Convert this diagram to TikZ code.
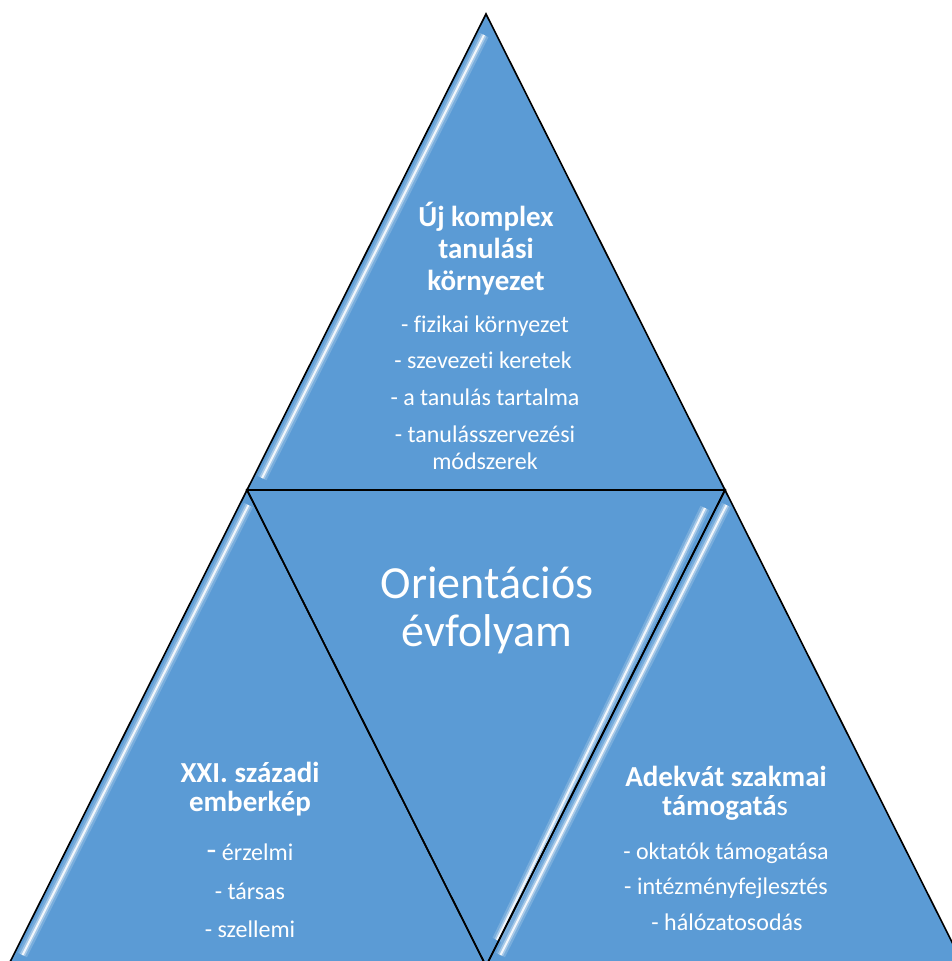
\documentclass[tikz,border=0pt]{standalone}
\usepackage{fontspec}
\setmainfont[Ligatures=CommonOff]{Carlito}
\definecolor{tblue}{RGB}{91,155,213}
\tikzset{
  tri/.style={fill=tblue, draw=black, line width=1.6pt, line join=miter},
  hlA/.style={draw=white, opacity=0.18, line width=10pt, line cap=butt},
  hlB/.style={draw=white, opacity=0.35, line width=5.5pt, line cap=butt},
  hlC/.style={draw=white, opacity=0.85, line width=2pt, line cap=butt},
  ttl/.style={text=white, font=\fontsize{29}{29}\selectfont\bfseries, anchor=base, inner sep=0pt},
  itm/.style={text=white, font=\fontsize{24}{24}\selectfont, anchor=base, inner sep=0pt},
  bigt/.style={text=white, font=\fontsize{46}{46}\selectfont, anchor=base, inner sep=0pt}
}
\newcommand{\hlstripe}[2]{%
  \draw[hlA] #1 -- #2; \draw[hlB] #1 -- #2; \draw[hlC] #1 -- #2;}
\begin{document}
\begin{tikzpicture}[x=1pt,y=-1pt]
\useasboundingbox (0,0) rectangle (952,961);
\begin{scope}
\clip (0,0) rectangle (952,961);
% triangles
\coordinate (apex) at (486,14);
\coordinate (ml) at (247,490);
\coordinate (mr) at (725,490);
\coordinate (bl) at (8,966);
\coordinate (bm) at (486,966);
\coordinate (br) at (964,966);
\fill[tblue] (apex) -- (bl) -- (br) -- cycle;
% highlights
\hlstripe{(484,35)}{(262,478)}
\hlstripe{(248.5,505)}{(22.5,955)}
\hlstripe{(726.5,505)}{(500.5,955)}
\hlstripe{(705,508)}{(497,940)}
\draw[tri, fill=none] (apex) -- (ml) -- (mr) -- cycle;
\draw[tri, fill=none] (ml) -- (bl) -- (bm) -- cycle;
\draw[tri, fill=none] (mr) -- (bm) -- (br) -- cycle;
\draw[tri, fill=none] (ml) -- (mr) -- (bm) -- cycle;
\end{scope}
% top texts
\node[ttl] (t1) at (486,226) {Új komplex};
\node[ttl] (t2) at (486,258) {tanulási};
\node[ttl] (t3) at (486,290) {környezet};
\node[itm] (t4) at (485,332) {- fizikai környezet};
\node[itm] (t5) at (483,368) {- szevezeti keretek};
\node[itm] (t6) at (485,405) {- a tanulás tartalma};
\node[itm] (t7) at (485,442) {- tanulásszervezési};
\node[itm] (t8) at (485,469) {módszerek};
% center
\node[bigt] (c1) at (487,598) {Orientációs};
\node[bigt] (c2) at (487,646) {évfolyam};
% left
\node[ttl] (l1) at (250,782) {XXI. századi};
\node[ttl] (l2) at (250,811) {emberkép};
\node[itm] (l3) at (250,860) {{\fontsize{32}{32}\selectfont -} érzelmi};
\node[itm] (l4) at (250,899) {- társas};
\node[itm] (l5) at (250,937) {- szellemi};
% right
\node[ttl] (r1) at (726,786) {Adekvát szakmai};
\node[ttl] (r2) at (725,815) {támogatá\mdseries s};
\node[itm] (r3) at (726,859) {- oktatók támogatása};
\node[itm] (r4) at (726,894) {- intézményfejlesztés};
\node[itm] (r5) at (727,930) {- hálózatosodás};
\end{tikzpicture}
\end{document}
